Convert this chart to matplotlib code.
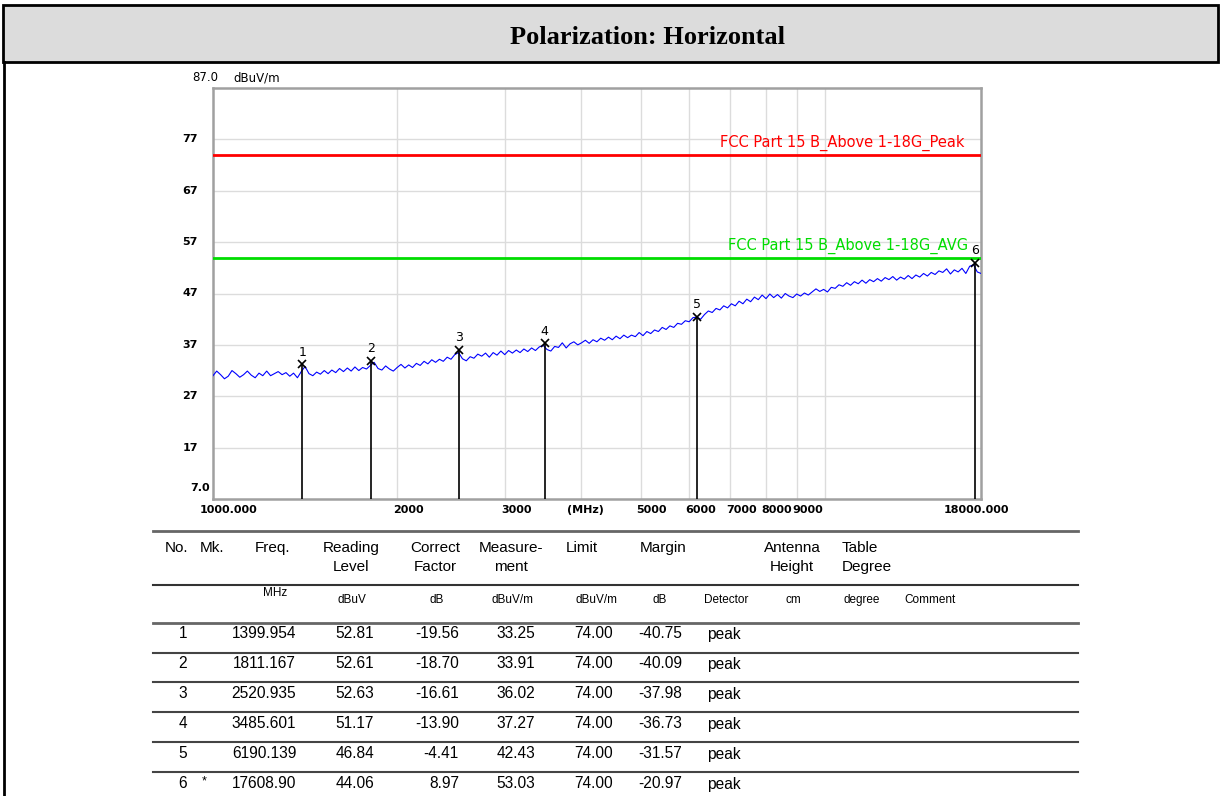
import matplotlib
matplotlib.use("Agg")
import matplotlib.pyplot as plt
from matplotlib.patches import Rectangle
from matplotlib.lines import Line2D

W, H = 1220, 796

# sweep trace (MHz, dBuV/m)
trace_freq = [1000, 1014, 1029, 1044, 1059, 1074, 1090, 1106, 1122, 1138,
              1155, 1172, 1189, 1206, 1224, 1242, 1260, 1278, 1297, 1316,
              1335, 1354, 1374, 1394, 1414, 1435, 1456, 1477, 1498, 1520,
              1542, 1564, 1587, 1610, 1634, 1658, 1682, 1706, 1731, 1756,
              1782, 1808, 1834, 1861, 1888, 1915, 1943, 1971, 2000, 2029,
              2059, 2089, 2119, 2150, 2181, 2213, 2245, 2278, 2311, 2345,
              2379, 2414, 2449, 2484, 2520, 2557, 2594, 2632, 2670, 2709,
              2749, 2789, 2829, 2870, 2912, 2955, 2998, 3042, 3086, 3131,
              3176, 3222, 3269, 3317, 3365, 3414, 3464, 3515, 3566, 3618,
              3670, 3723, 3778, 3833, 3889, 3946, 4003, 4061, 4120, 4180,
              4241, 4303, 4366, 4430, 4494, 4559, 4626, 4693, 4761, 4830,
              4901, 4972, 5045, 5119, 5193, 5268, 5345, 5423, 5502, 5582,
              5664, 5746, 5830, 5915, 6001, 6089, 6177, 6267, 6358, 6451,
              6545, 6641, 6737, 6835, 6935, 7036, 7138, 7242, 7348, 7455,
              7563, 7673, 7785, 7899, 8014, 8131, 8249, 8369, 8491, 8615,
              8740, 8868, 8997, 9128, 9261, 9396, 9533, 9672, 9812, 9955,
              10100, 10247, 10397, 10548, 10702, 10858, 11016, 11177, 11340, 11505,
              11672, 11843, 12015, 12190, 12367, 12548, 12730, 12916, 13104, 13295,
              13488, 13685, 13884, 14087, 14292, 14500, 14711, 14926, 15143, 15364,
              15587, 15815, 16045, 16279, 16516, 16757, 17001, 17249, 17500, 17750,
              18000]
trace_level = [31.0, 31.9, 31.2, 30.4, 30.9, 32.0, 31.4, 30.7, 31.2, 31.9,
               31.1, 30.6, 31.5, 31.0, 31.9, 31.0, 31.4, 31.8, 31.2, 31.6,
               30.9, 31.5, 30.6, 31.8, 32.8, 31.4, 31.0, 31.7, 31.3, 32.0,
               31.4, 32.1, 31.6, 32.4, 31.8, 32.5, 31.9, 32.7, 32.0, 32.6,
               32.3, 33.0, 33.6, 32.4, 32.1, 32.9, 32.3, 31.9, 32.6, 33.2,
               32.5, 33.1, 32.6, 33.4, 33.0, 33.8, 33.3, 34.1, 33.6, 34.2,
               33.8, 34.6, 34.2, 35.1, 35.5, 34.3, 33.9, 34.7, 34.4, 35.2,
               34.8, 35.4, 34.6, 35.5, 35.0, 35.8, 35.1, 35.9, 35.4, 36.0,
               35.5, 36.2, 35.7, 36.4, 35.9, 36.6, 36.9, 36.1, 35.8, 36.7,
               36.5, 37.4, 36.4, 37.2, 37.6, 37.0, 37.4, 37.9, 37.3, 38.0,
               37.6, 38.3, 37.9, 38.5, 38.0, 38.7, 38.2, 38.9, 38.4, 38.9,
               38.6, 39.4, 38.8, 39.6, 39.2, 39.9, 39.6, 40.4, 40.0, 40.7,
               40.4, 41.2, 41.0, 41.7, 41.5, 42.3, 42.4, 42.0, 42.9, 43.6,
               43.3, 44.1, 43.8, 44.6, 44.2, 45.0, 44.6, 45.5, 45.0, 45.9,
               45.4, 46.3, 45.8, 46.7, 46.0, 46.9, 46.2, 46.8, 46.1, 47.0,
               46.5, 46.2, 46.9, 46.5, 47.1, 46.7, 47.3, 47.9, 47.4, 47.8,
               47.3, 48.2, 48.0, 48.7, 48.4, 49.1, 48.6, 49.3, 48.9, 49.6,
               49.0, 49.7, 49.3, 49.9, 49.4, 50.1, 49.7, 50.3, 49.6, 50.2,
               49.8, 50.5, 49.9, 50.6, 50.2, 50.9, 50.4, 51.1, 50.7, 51.4,
               51.1, 51.8, 50.8, 51.6, 51.2, 51.9, 50.9, 52.3, 52.6, 51.2,
               50.9]

limit_peak = 74
limit_avg = 54
limit_peak_label = "FCC Part 15 B_Above 1-18G_Peak"
limit_avg_label = "FCC Part 15 B_Above 1-18G_AVG"

xtick_vals = [1000, 2000, 3000, 4000, 5000, 6000, 7000, 8000, 9000, 18000]
xtick_labels = ["1000.000", "2000", "3000", "(MHz)", "5000", "6000",
                "7000", "8000", "9000", "18000.000"]
ytick_vals = [77, 67, 57, 47, 37, 27, 17]

# marker table
mk_no = [1, 2, 3, 4, 5, 6]
mk_flag = ["", "", "", "", "", "*"]
mk_freq = ["1399.954", "1811.167", "2520.935", "3485.601", "6190.139", "17608.90"]
mk_reading = [52.81, 52.61, 52.63, 51.17, 46.84, 44.06]
mk_factor = [-19.56, -18.70, -16.61, -13.90, -4.41, 8.97]
mk_level = [33.25, 33.91, 36.02, 37.27, 42.43, 53.03]
mk_limit = [74.00, 74.00, 74.00, 74.00, 74.00, 74.00]
mk_margin = [-40.75, -40.09, -37.98, -36.73, -31.57, -20.97]
mk_detector = ["peak"] * 6


def fx(x):
    return x / W


def fy(y):
    return 1 - y / H


fig = plt.figure(figsize=(W / 100, H / 100), dpi=100)
fig.patch.set_facecolor("white")

# title bar
fig.patches.append(Rectangle((fx(3), fy(62)), fx(1215), 57 / H, transform=fig.transFigure,
                             facecolor="#dcdcdc", edgecolor="black", linewidth=2))
fig.lines.append(Line2D([fx(4), fx(4)], [fy(62), fy(796)], transform=fig.transFigure,
                        color="black", linewidth=2))
fig.text(fx(648), fy(37), "Polarization: Horizontal", ha="center", va="center",
         fontsize=19, fontweight="bold", family="Liberation Serif")

# plot area
ax = fig.add_axes([fx(213), fy(499), (981 - 213) / W, 411 / H])
ax.set_xscale("log")
ax.set_xlim(1000, 18000)
ax.set_ylim(7, 87)
ax.set_xticks([2000, 3000, 4000, 5000, 6000, 7000, 8000, 9000, 10000])
ax.set_xticks([], minor=True)
ax.set_yticks(ytick_vals)
ax.tick_params(length=0, labelbottom=False, labelleft=False, which="both")
ax.grid(True, color="#dcdcdc", linewidth=1)
ax.set_axisbelow(True)
for s in ax.spines.values():
    s.set_color("#a0a0a0")
    s.set_linewidth(1.8)

ax.plot(trace_freq, trace_level, color="#0000ff", linewidth=0.8, zorder=3)
ax.axhline(limit_peak, color="#ff0000", linewidth=2, zorder=4)
ax.axhline(limit_avg, color="#00dd00", linewidth=2, zorder=4)

mk_f = [float(f) for f in mk_freq]
ax.vlines(mk_f, 7, mk_level, color="black", linewidth=1.2, zorder=5)
ax.plot(mk_f, mk_level, "x", color="black", markersize=6, mew=1.2, zorder=6)
for n, f, lv in zip(mk_no, mk_f, mk_level):
    ax.annotate(str(n), xy=(f, lv), xytext=(0, 12), textcoords="offset pixels",
                ha="center", va="center", fontsize=9, color="black")

ax.annotate(limit_peak_label, xy=(1, limit_peak), xycoords=("axes fraction", "data"),
            xytext=(-16, 12), textcoords="offset pixels", ha="right", va="center",
            fontsize=10.5, color="#ff0000")
ax.annotate(limit_avg_label, xy=(1, limit_avg), xycoords=("axes fraction", "data"),
            xytext=(-13, 12), textcoords="offset pixels", ha="right", va="center",
            fontsize=10.5, color="#00dd00")

# axis labels
tk = dict(fontsize=8, fontweight="bold", color="black", va="center")
for v, lab in zip(xtick_vals, xtick_labels):
    if lab == "1000.000":
        dx, ha = -13, "left"
    elif lab == "18000.000":
        dx, ha = -5, "center"
    elif lab == "(MHz)":
        dx, ha = 4, "center"
    else:
        dx, ha = -4, "left"
    ax.annotate(lab, xy=(v, 0), xycoords=("data", "axes fraction"), xytext=(dx, -11),
                textcoords="offset pixels", ha=ha, **tk)
for v in ytick_vals:
    ax.annotate(str(v), xy=(0, v), xycoords=("axes fraction", "data"), xytext=(-15, 0),
                textcoords="offset pixels", ha="right", **tk)
ax.annotate("7.0", xy=(0, 7), xycoords=("axes fraction", "data"), xytext=(-3, 11),
            textcoords="offset pixels", ha="right", **tk)
ax.annotate("87.0", xy=(0, 87), xycoords=("axes fraction", "data"), xytext=(5, 10),
            textcoords="offset pixels", ha="right", va="center", fontsize=8.5, color="black")
ax.annotate("dBuV/m", xy=(0, 87), xycoords=("axes fraction", "data"), xytext=(20, 10),
            textcoords="offset pixels", ha="left", va="center", fontsize=8.5, color="black")

# table
tf = "Liberation Sans"
for y, c, lw in [(531, "#666666", 2), (585, "#333333", 1.5), (623, "#666666", 2),
                 (653, "#444444", 1.5), (682, "#444444", 1.5), (712, "#444444", 1.5),
                 (742, "#444444", 1.5), (772, "#444444", 1.5)]:
    fig.lines.append(Line2D([fx(153), fx(1078)], [fy(y), fy(y)], transform=fig.transFigure,
                            color=c, linewidth=lw))

hdr = [(165, "No.", "left", None), (200, "Mk.", "left", None), (273, "Freq.", "center", None),
       (351, "Reading", "center", "Level"), (435, "Correct", "center", "Factor"),
       (511, "Measure-", "center", "ment"), (582, "Limit", "center", None),
       (663, "Margin", "center", None), (792, "Antenna", "center", "Height"),
       (842, "Table", "left", "Degree")]
for x, l1, ha, l2 in hdr:
    fig.text(fx(x), fy(548), l1, ha=ha, va="center", fontsize=11, family=tf)
    if l2:
        fig.text(fx(x), fy(567), l2, ha=ha, va="center", fontsize=11, family=tf)

units = [(275, "MHz", 593), (352, "dBuV", 600), (437, "dB", 600), (512, "dBuV/m", 600),
         (596, "dBuV/m", 600), (660, "dB", 600), (726, "Detector", 600), (793, "cm", 600),
         (862, "degree", 600), (930, "Comment", 600)]
for x, lab, y in units:
    fig.text(fx(x), fy(y), lab, ha="center", va="center", fontsize=8.5, family=tf)

for i in range(len(mk_no)):
    y = fy(634 + 30 * i)
    rt = dict(va="center", fontsize=11.2, family=tf)
    fig.text(fx(183), y, str(mk_no[i]), ha="center", **rt)
    if mk_flag[i]:
        fig.text(fx(204), fy(631 + 30 * i), mk_flag[i], ha="center", va="center",
                 fontsize=9, family=tf)
    fig.text(fx(264), y, mk_freq[i], ha="center", **rt)
    fig.text(fx(355), y, f"{mk_reading[i]:.2f}", ha="center", **rt)
    fig.text(fx(459), y, f"{mk_factor[i]:.2f}", ha="right", **rt)
    fig.text(fx(516), y, f"{mk_level[i]:.2f}", ha="center", **rt)
    fig.text(fx(594), y, f"{mk_limit[i]:.2f}", ha="center", **rt)
    fig.text(fx(660), y, f"{mk_margin[i]:.2f}", ha="center", **rt)
    fig.text(fx(707), y, mk_detector[i], ha="left", **rt)

fig.savefig("out.png", dpi=100, facecolor="white")
